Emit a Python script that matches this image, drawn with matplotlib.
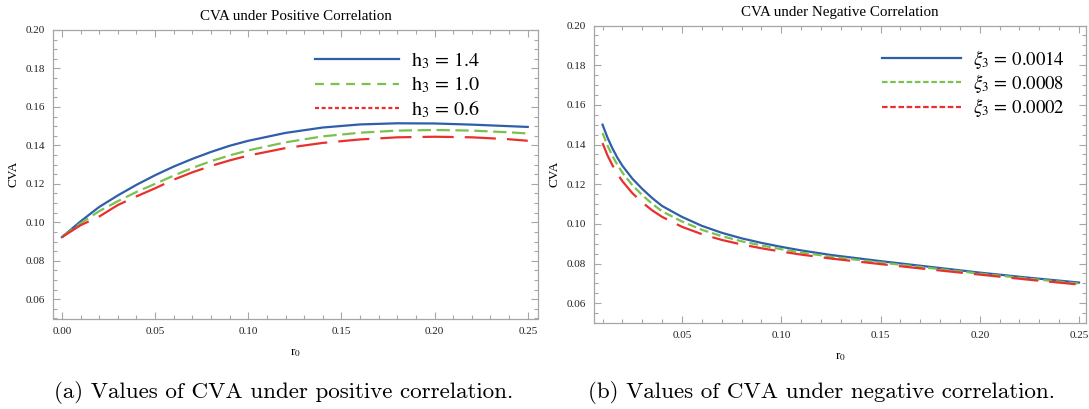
import matplotlib
matplotlib.use("Agg")
import matplotlib.pyplot as plt
from matplotlib.lines import Line2D
from matplotlib.ticker import MultipleLocator, FormatStrFormatter

plt.rcParams['font.family'] = ['Liberation Serif', 'DejaVu Serif']
plt.rcParams['mathtext.fontset'] = 'stix'

# positive correlation, r0 vs CVA for three h3 values
r_pos = [0, 0.01, 0.02, 0.03, 0.04, 0.05, 0.06, 0.07, 0.08, 0.09, 0.10,
         0.12, 0.14, 0.16, 0.18, 0.20, 0.22, 0.24, 0.25]
cva_h14 = [0.0923, 0.1005, 0.1080, 0.1140, 0.1195, 0.1245, 0.1290, 0.1330, 0.1366, 0.1398, 0.1424,
           0.1465, 0.1493, 0.1509, 0.1515, 0.1514, 0.1508, 0.1500, 0.1496]
cva_h10 = [0.0923, 0.0995, 0.1058, 0.1110, 0.1158, 0.1200, 0.1243, 0.1283, 0.1318, 0.1348, 0.1374,
           0.1416, 0.1447, 0.1466, 0.1477, 0.1480, 0.1477, 0.1468, 0.1462]
cva_h06 = [0.0923, 0.0985, 0.1030, 0.1090, 0.1135, 0.1177, 0.1222, 0.1260, 0.1293, 0.1322, 0.1347,
           0.1386, 0.1413, 0.1431, 0.1442, 0.1445, 0.1442, 0.1432, 0.1424]
pos_labels = [r'$\mathrm{h}_3\,=\,1.4$', r'$\mathrm{h}_3\,=\,1.0$', r'$\mathrm{h}_3\,=\,0.6$']

# negative correlation, r0 vs CVA for three xi3 values
r_neg = [0.01, 0.0125, 0.015, 0.0175, 0.02, 0.025, 0.03, 0.035, 0.04, 0.05, 0.06, 0.07,
         0.08, 0.09, 0.10, 0.11, 0.125, 0.15, 0.175, 0.20, 0.225, 0.25]
cva_x14 = [0.1500, 0.1435, 0.1380, 0.1333, 0.1293, 0.1228, 0.1176, 0.1130, 0.1090, 0.1035, 0.0990, 0.0955,
           0.0927, 0.0904, 0.0884, 0.0866, 0.0843, 0.0812, 0.0783, 0.0754, 0.0728, 0.0704]
cva_x08 = [0.1458, 0.1395, 0.1342, 0.1297, 0.1258, 0.1195, 0.1145, 0.1101, 0.1063, 0.1012, 0.0970, 0.0938,
           0.0912, 0.0891, 0.0872, 0.0856, 0.0834, 0.0805, 0.0777, 0.0749, 0.0723, 0.0699]
cva_x02 = [0.1407, 0.1345, 0.1295, 0.1252, 0.1215, 0.1155, 0.1108, 0.1068, 0.1035, 0.0985, 0.0948, 0.0919,
           0.0896, 0.0877, 0.0860, 0.0845, 0.0825, 0.0797, 0.0770, 0.0744, 0.0718, 0.0694]
neg_labels = [r'$\xi_3\,=\,0.0014$', r'$\xi_3\,=\,0.0008$', r'$\xi_3\,=\,0.0002$']

blue = '#2f5eaa'
green = '#7ac150'
red = '#e8302c'
frame = '#a6a6a6'

fig = plt.figure(figsize=(10.89, 4.09), dpi=100)
ax1 = fig.add_axes([53/1089, 1 - 318.5/409, (538-53)/1089, (318.5-30)/409])
ax2 = fig.add_axes([594/1089, 1 - 323/409, (1086-594)/1089, (323-25.5)/409])


def style_axes(ax):
    for s in ax.spines.values():
        s.set_color(frame)
        s.set_linewidth(0.9)
    ax.xaxis.set_major_locator(MultipleLocator(0.05))
    ax.xaxis.set_minor_locator(MultipleLocator(0.01))
    ax.yaxis.set_major_locator(MultipleLocator(0.02))
    ax.yaxis.set_minor_locator(MultipleLocator(0.005))
    ax.xaxis.set_major_formatter(FormatStrFormatter('%.2f'))
    ax.yaxis.set_major_formatter(FormatStrFormatter('%.2f'))
    ax.tick_params(which='both', direction='in', top=True, right=True, color=frame,
                   labelsize=8, labelcolor='#222222', width=0.8)
    ax.tick_params(which='major', length=5, pad=6)
    ax.tick_params(which='minor', length=2.8)
    ax.set_ylabel('CVA', fontsize=9.5, labelpad=4)
    ax.set_xlabel(r'r$_0$', fontsize=9.5, labelpad=8)
    ax.set_ylim(0.05, 0.20)


# left panel
ax1.plot(r_pos, cva_h14, color=blue, lw=1.6)
ax1.plot(r_pos, cva_h10, color=green, lw=1.6, dashes=(6, 2.5))
ax1.plot(r_pos, cva_h06, color=red, lw=1.6, dashes=(14, 5))
ax1.set_xlim(-0.0048, 0.2555)
style_axes(ax1)
ax1.set_title('CVA under Positive Correlation', fontsize=10.8, pad=7)
h1 = [Line2D([], [], color=blue, lw=1.6),
      Line2D([], [], color=green, lw=1.6, dashes=(4, 3)),
      Line2D([], [], color=red, lw=1.6, dashes=(1.8, 1.2))]
ax1.legend(h1, pos_labels, loc='upper left', bbox_to_anchor=(0.54, 0.93), frameon=False,
           fontsize=14.5, handlelength=4.2, handletextpad=0.55, labelspacing=0.2,
           borderaxespad=0, borderpad=0)

# right panel
ax2.plot(r_neg, cva_x14, color=blue, lw=1.6)
ax2.plot(r_neg, cva_x08, color=green, lw=1.6, dashes=(4, 1.8))
ax2.plot(r_neg, cva_x02, color=red, lw=1.6, dashes=(12, 5))
ax2.set_xlim(0.0057, 0.2535)
style_axes(ax2)
ax2.set_title('CVA under Negative Correlation', fontsize=10.8, pad=7)
h2 = [Line2D([], [], color=blue, lw=1.6),
      Line2D([], [], color=green, lw=1.6, dashes=(2.5, 1.2)),
      Line2D([], [], color=red, lw=1.6, dashes=(2.5, 1.2))]
ax2.legend(h2, neg_labels, loc='upper left', bbox_to_anchor=(0.585, 0.925), frameon=False,
           fontsize=13.5, handlelength=4.2, handletextpad=0.64, labelspacing=0.06,
           borderaxespad=0, borderpad=0)

# sub-captions
fig.text(284/1089, 1 - 392/409, '(a) Values of CVA under positive correlation.',
         family='cmr10', fontsize=16.6, ha='center', va='center')
fig.text(821/1089, 1 - 392/409, '(b) Values of CVA under negative correlation.',
         family='cmr10', fontsize=16.6, ha='center', va='center')

fig.savefig('out.png', dpi=100)
